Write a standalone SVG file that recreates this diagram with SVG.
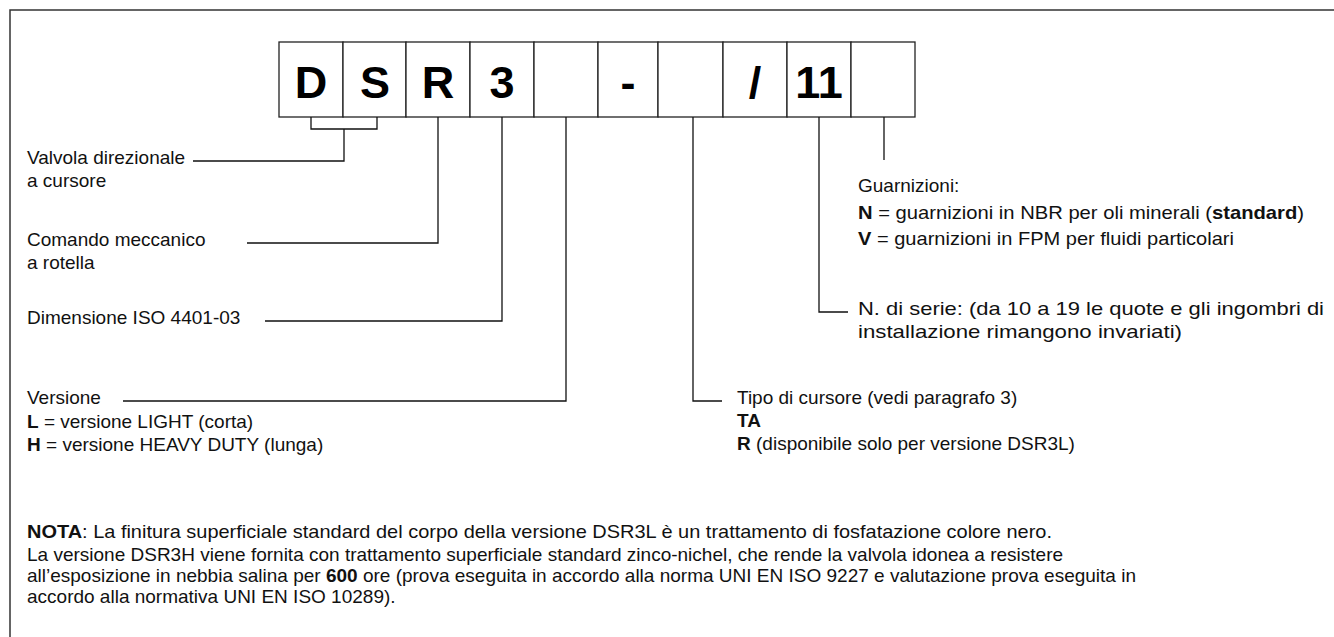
<svg xmlns="http://www.w3.org/2000/svg" width="1334" height="637" viewBox="0 0 1334 637">
<style>
.frame{fill:none;stroke:#333;stroke-width:1.5}
.box{fill:#fff;stroke:#222;stroke-width:1.3}
.big{font-family:"Liberation Sans",Arial,sans-serif;font-weight:bold;font-size:45px;fill:#000;text-anchor:middle}
.t{font-family:"Liberation Sans",Arial,sans-serif;font-size:19px;fill:#111}
.b{font-weight:bold}
.ln{fill:none;stroke:#111;stroke-width:1.3}
</style>
<rect width="1334" height="637" fill="#fff"/>
<rect class="frame" x="10" y="10" width="1340" height="640"/>
<g id="code">
<rect class="box" x="279" y="42" width="64" height="75"/>
<rect class="box" x="343" y="42" width="63" height="75"/>
<rect class="box" x="406" y="42" width="64" height="75"/>
<rect class="box" x="470" y="42" width="64" height="75"/>
<rect class="box" x="534" y="42" width="64" height="75"/>
<rect class="box" x="598" y="42" width="60" height="75"/>
<rect class="box" x="658" y="42" width="65" height="75"/>
<rect class="box" x="723" y="42" width="64" height="75"/>
<rect class="box" x="787" y="42" width="64" height="75"/>
<rect class="box" x="851" y="42" width="64" height="75"/>
<text class="big" x="311" y="98">D</text>
<text class="big" x="375" y="98">S</text>
<text class="big" x="438" y="98">R</text>
<text class="big" x="502" y="98">3</text>
<text class="big" x="628" y="98">-</text>
<text class="big" x="755" y="98">/</text>
<text class="big" x="819" y="98">11</text>
</g>
<g id="connectors">
<path class="ln" d="M311,117 V129 H377 V117"/>
<path class="ln" d="M344,129 V161 H193"/>
<path class="ln" d="M438,117 V243 H247"/>
<path class="ln" d="M502,117 V321 H265"/>
<path class="ln" d="M566,117 V401 H123"/>
<path class="ln" d="M693,117 V401 H722"/>
<path class="ln" d="M819,117 V312 H848"/>
<path class="ln" d="M884,117 V160"/>
</g>
<g id="n-valvola"><text class="t" x="27" y="164">Valvola direzionale</text><text class="t" x="27" y="187">a cursore</text></g>
<g id="n-comando"><text class="t" x="27" y="246">Comando meccanico</text><text class="t" x="27" y="269">a rotella</text></g>
<g id="n-dimensione"><text class="t" x="27" y="324">Dimensione ISO 4401-03</text></g>
<g id="n-versione"><text class="t" x="27" y="404">Versione</text>
<text class="t" x="27" y="428"><tspan class="b">L</tspan> = versione LIGHT (corta)</text>
<text class="t" x="27" y="451"><tspan class="b">H</tspan> = versione HEAVY DUTY (lunga)</text></g>
<g id="n-tipo"><text class="t" x="737" y="404">Tipo di cursore (vedi paragrafo 3)</text>
<text class="t b" x="737" y="427">TA</text>
<text class="t" x="737" y="450"><tspan class="b">R</tspan> (disponibile solo per versione DSR3L)</text></g>
<g id="n-serie"><text class="t" x="858" y="315" textLength="466" lengthAdjust="spacingAndGlyphs">N. di serie: (da 10 a 19 le quote e gli ingombri di</text>
<text class="t" x="858" y="338" textLength="324" lengthAdjust="spacingAndGlyphs">installazione rimangono invariati)</text></g>
<g id="n-guarnizioni"><text class="t" x="858" y="192">Guarnizioni:</text>
<text class="t" x="858" y="219" textLength="446" lengthAdjust="spacingAndGlyphs"><tspan class="b">N</tspan> = guarnizioni in NBR per oli minerali (<tspan class="b">standard</tspan>)</text>
<text class="t" x="858" y="245" textLength="376" lengthAdjust="spacingAndGlyphs"><tspan class="b">V</tspan> = guarnizioni in FPM per fluidi particolari</text></g>
<g id="n-nota">
<text class="t" x="27" y="538" textLength="1025" lengthAdjust="spacingAndGlyphs"><tspan class="b">NOTA</tspan>: La finitura superficiale standard del corpo della versione DSR3L è un trattamento di fosfatazione colore nero.</text>
<text class="t" x="27" y="561">La versione DSR3H viene fornita con trattamento superficiale standard zinco-nichel, che rende la valvola idonea a resistere</text>
<text class="t" x="27" y="582">all’esposizione in nebbia salina per <tspan class="b">600</tspan> ore (prova eseguita in accordo alla norma UNI EN ISO 9227 e valutazione prova eseguita in</text>
<text class="t" x="27" y="603">accordo alla normativa UNI EN ISO 10289).</text>
</g>
</svg>
